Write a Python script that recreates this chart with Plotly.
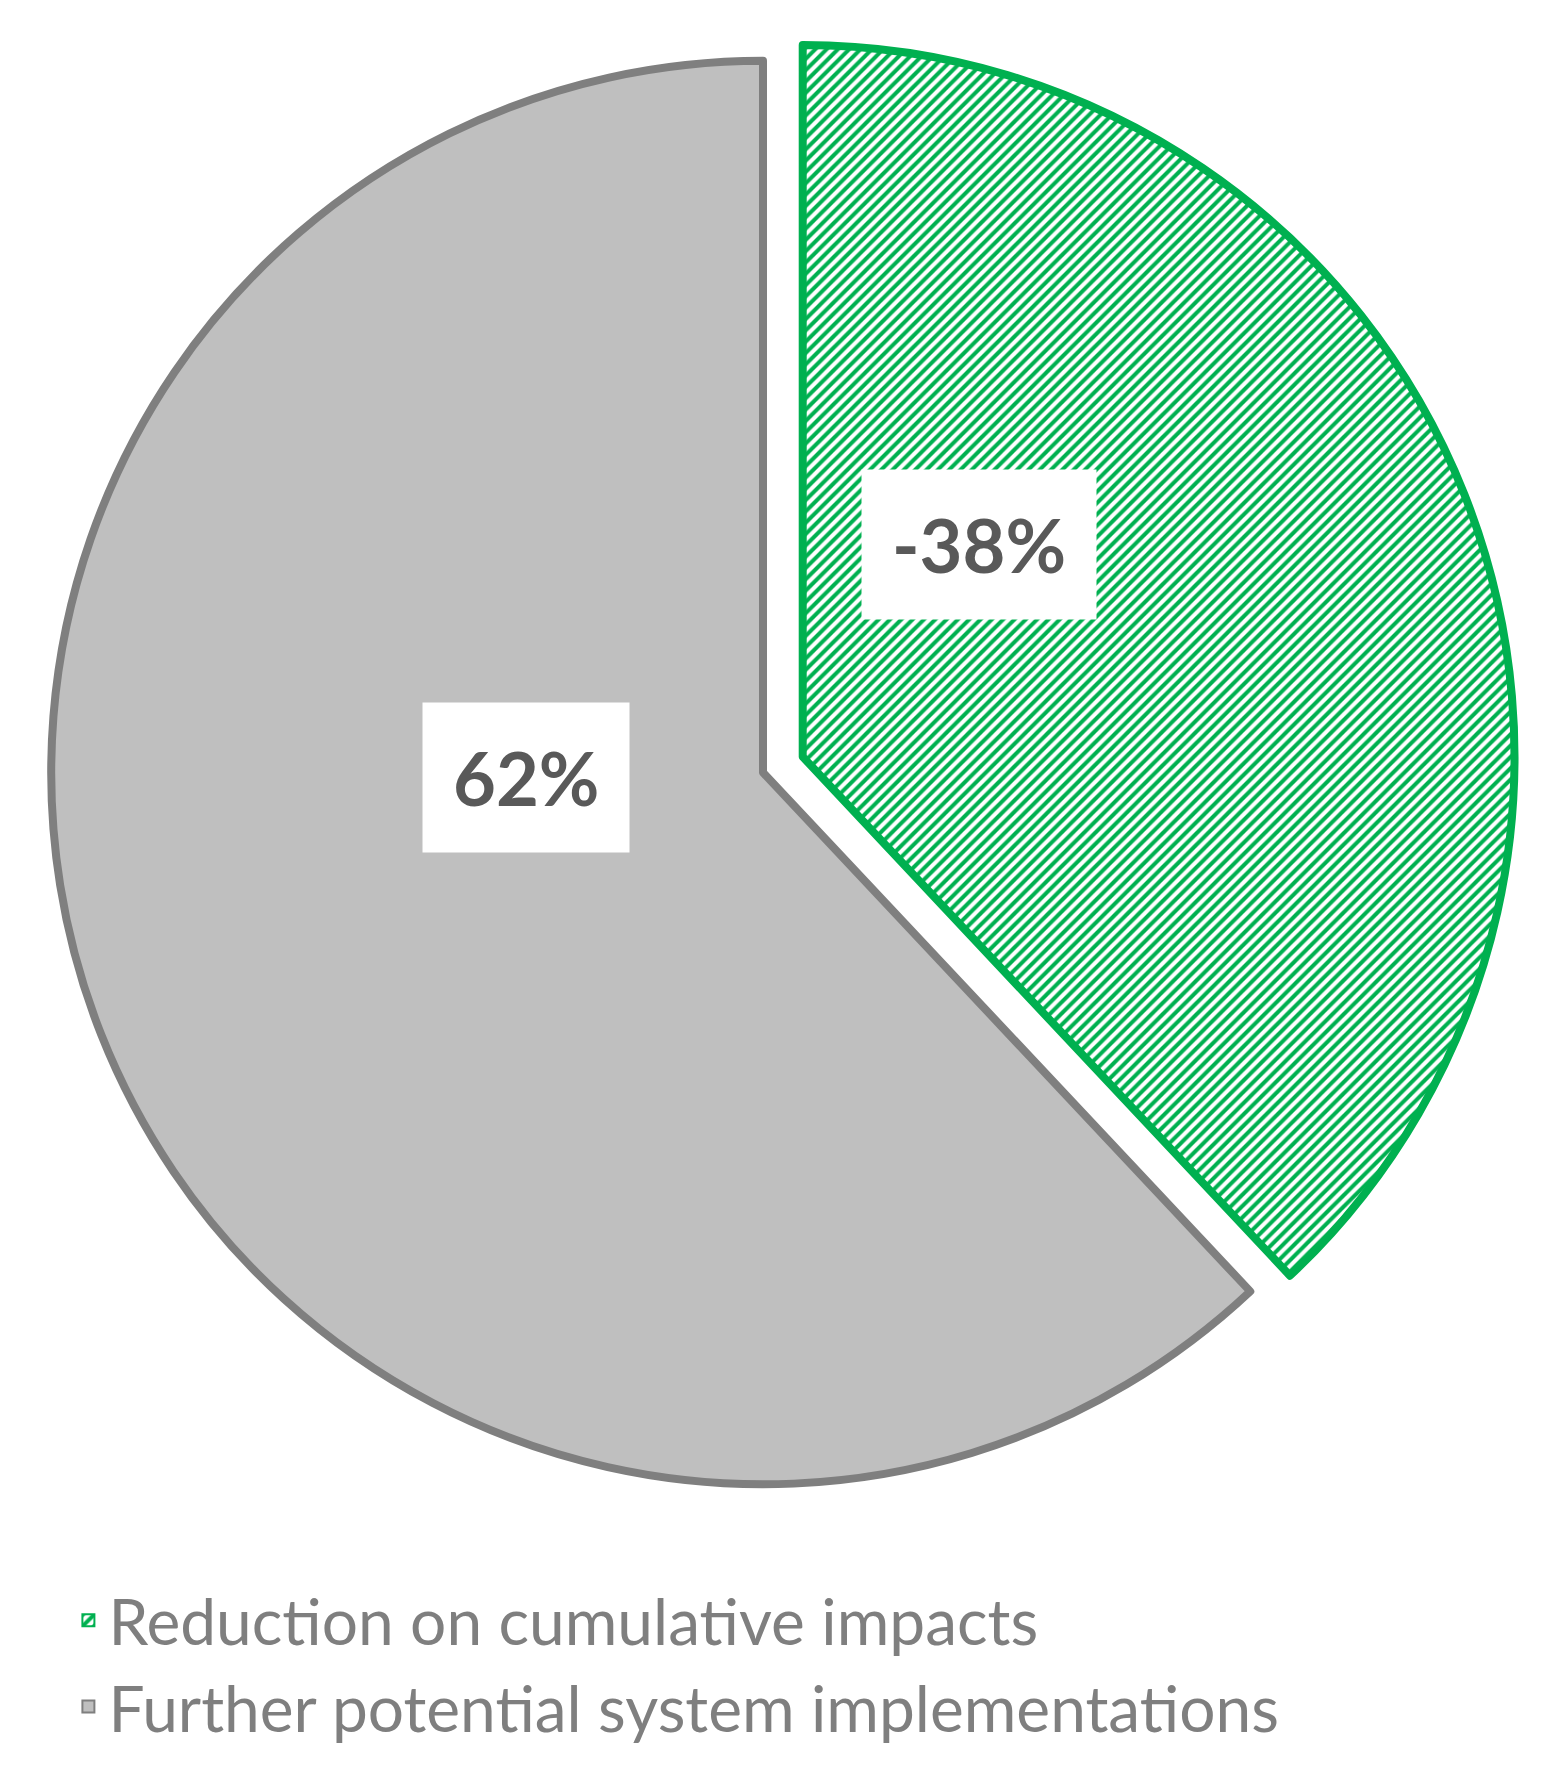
import math
import plotly.graph_objects as go

labels = ["Reduction on cumulative impacts", "Further potential system implementations"]
values = [38, 62]
shown = ["-38%", "62%"]
fills = ["#00B050", "#BFBFBF"]
edges = ["#00B050", "#7F7F7F"]

W, H = 1550, 1779
ML, MR, MT, MB = 0, 40, 10, 260

fig = go.Figure(go.Pie(
    labels=labels, values=values, sort=False, direction="clockwise", rotation=0,
    pull=[0.06, 0], textinfo="none", hoverinfo="label+value",
    marker=dict(colors=fills, line=dict(color=edges, width=8),
                pattern=dict(shape=["/", ""], fgcolor="#00B050", bgcolor="white",
                             size=8, solidity=0.5)),
))

# label boxes, placed at each slice's mid-angle
pw, ph = W - ML - MR, H - MT - MB
cx, cy = ML + pw / 2, MT + ph / 2
r = min(pw, ph) / 2 * 0.94
start = 0
for v, t, k in zip(values, shown, [0.55, 0.5]):
    mid = (start + v / 2) / sum(values) * 2 * math.pi
    start += v
    px_ = cx + k * r * math.sin(mid)
    py_ = cy - k * r * math.cos(mid)
    fig.add_annotation(x=px_ / W, y=1 - py_ / H, xref="paper", yref="paper",
                       text="<b>%s</b>" % t, showarrow=False,
                       font=dict(size=74, color="#595959", family="Lato"),
                       bgcolor="white", borderpad=30)

fig.update_layout(
    width=W, height=H, margin=dict(l=ML, r=MR, t=MT, b=MB),
    paper_bgcolor="white", plot_bgcolor="white",
    font=dict(family="Lato", color="#7F7F7F"),
    legend=dict(x=0.04, y=-0.03, xanchor="left", yanchor="top",
                font=dict(size=64, color="#7F7F7F"),
                itemsizing="constant"),
)
fig.write_html("out.html")
